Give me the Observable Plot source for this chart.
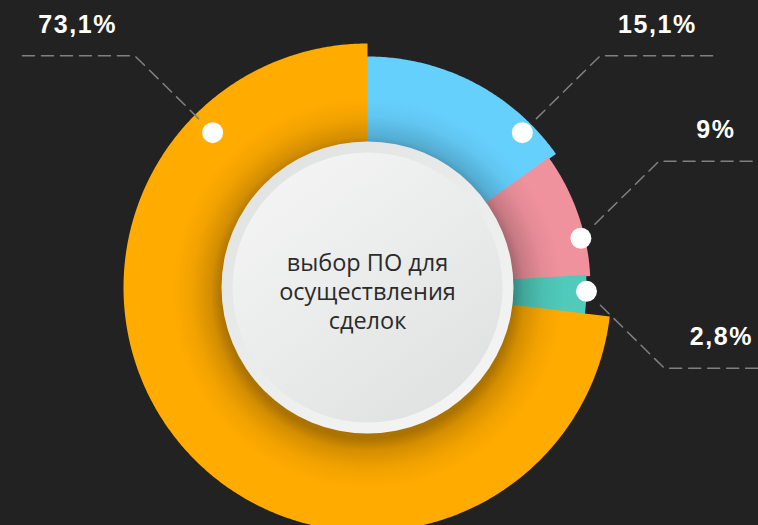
<!DOCTYPE html>
<html><head><meta charset="utf-8">
<script src="https://cdn.jsdelivr.net/npm/d3@7"></script>
<script src="https://cdn.jsdelivr.net/npm/@observablehq/plot@0.6"></script>
<style>html,body{margin:0;padding:0;background:#222;} #chart{width:758px;height:525px;overflow:hidden;}
g[font-weight="bold"] text{letter-spacing:1.6px;}</style>
</head><body><div id="chart"></div>
<script>
// ---- data ----
const categories = ["Сегмент 1", "Сегмент 2", "Сегмент 3", "Сегмент 4"];
const values = [15.1, 9, 2.8, 73.1];
const centerTitle = ["выбор ПО для", "осуществления", "сделок"];

// ---- style / layout ----
const colors = ["#66d0fd", "#f0929e", "#4fcabb", "#ffab00"];
const outerRadius = [231, 223, 219, 244];
const labelAngle = [45, 77, 91, 315];   // degrees clockwise from top
const labelDirX = [1, 1, 1, -1];
const labelDirY = [1, 1, -1, 1];        // 1 = up
const dotRadius = 219;

const total = d3.sum(values);
const rad = a => a * Math.PI / 180;

// slice polygons
const slicePts = [];
let acc = 0;
values.forEach((v, i) => {
  let a0 = acc / total * 360;
  acc += v;
  let a1 = acc / total * 360;
  if (i === 0) a0 -= 0.3;
  if (i < values.length - 1) a1 += 0.3;
  const r = outerRadius[i];
  slicePts.push({key: categories[i], x: 0, y: 0});
  const n = Math.max(2, Math.ceil((a1 - a0) / 0.5));
  for (let k = 0; k <= n; k++) {
    const a = rad(a0 + (a1 - a0) * k / n);
    slicePts.push({key: categories[i], x: r * Math.sin(a), y: r * Math.cos(a)});
  }
});

// label anchors and leader lines
const labels = values.map((v, i) => {
  const a = rad(labelAngle[i]);
  const x = dotRadius * Math.sin(a), y = dotRadius * Math.cos(a);
  const sx = labelDirX[i], sy = labelDirY[i];
  const ex = x + 78 * sx, ey = y + 77 * sy;
  return {key: categories[i], x, y, sx, sy, ex, ey,
          lx: ex + 57 * sx, ly: ey, text: String(v).replace(".", ",") + "%"};
});
const leaderPts = labels.flatMap(d => [
  {key: d.key, x: d.x + 14 * d.sx, y: d.y + 14 * d.sy},
  {key: d.key, x: d.ex, y: d.ey},
  {key: d.key, x: d.ex + 114 * d.sx, y: d.ey}
]);

function defs() {
  const g = d3.create("svg:defs");
  const sh = g.append("radialGradient").attr("id", "shadow");
  [[0, 0.35], [0.74, 0.33], [0.8, 0.17], [0.9, 0.05], [1, 0]].forEach(([o, a]) =>
    sh.append("stop").attr("offset", o).attr("stop-color", "#000").attr("stop-opacity", a));
  const rim = g.append("linearGradient").attr("id", "rim").attr("x1", 0.2).attr("y1", 0.1).attr("x2", 0.8).attr("y2", 0.9);
  rim.append("stop").attr("offset", 0).attr("stop-color", "#e2e4e4");
  rim.append("stop").attr("offset", 1).attr("stop-color", "#f4f4f4");
  const inner = g.append("linearGradient").attr("id", "inner").attr("x1", 0.2).attr("y1", 0.1).attr("x2", 0.8).attr("y2", 0.9);
  inner.append("stop").attr("offset", 0).attr("stop-color", "#f3f3f3");
  inner.append("stop").attr("offset", 1).attr("stop-color", "#e1e3e3");
  return g.node();
}

const chart = Plot.plot({
  width: 758, height: 525, margin: 0,
  x: {domain: [-367, 391], axis: null},
  y: {domain: [-238, 287], axis: null},
  color: {domain: categories, range: colors},
  style: {background: "#222", overflow: "hidden"},
  marks: [
    defs,
    Plot.line(slicePts, {x: "x", y: "y", z: "key", fill: "key", stroke: "none", curve: "linear-closed"}),
    Plot.dot([{x: 0, y: -6}], {x: "x", y: "y", r: 196, fill: "url(#shadow)", stroke: "none"}),
    Plot.dot([{x: 0, y: 0}], {x: "x", y: "y", r: 146, fill: "url(#rim)", stroke: "none"}),
    Plot.dot([{x: 0, y: 0}], {x: "x", y: "y", r: 135, fill: "url(#inner)", stroke: "none"}),
    Plot.text([centerTitle.join("\n")], {x: () => 0, y: () => 0, text: d => d, fill: "#2b2b2b",
      fontSize: 23.5, fontFamily: "Open Sans", lineHeight: 1.25, lineAnchor: "middle", dy: 3}),
    Plot.line(leaderPts, {x: "x", y: "y", z: "key", stroke: "#808080", strokeWidth: 1.5, strokeDasharray: "12,7"}),
    Plot.dot(labels, {x: "x", y: "y", r: 10.5, fill: "white", stroke: "none"}),
    Plot.text(labels, {x: "lx", y: "ly", text: "text", fill: "white", fontSize: 25, fontWeight: "bold",
      fontFamily: "Liberation Sans", lineAnchor: "bottom", dy: -23})
  ]
});
document.getElementById("chart").appendChild(chart);
</script>
</body></html>
